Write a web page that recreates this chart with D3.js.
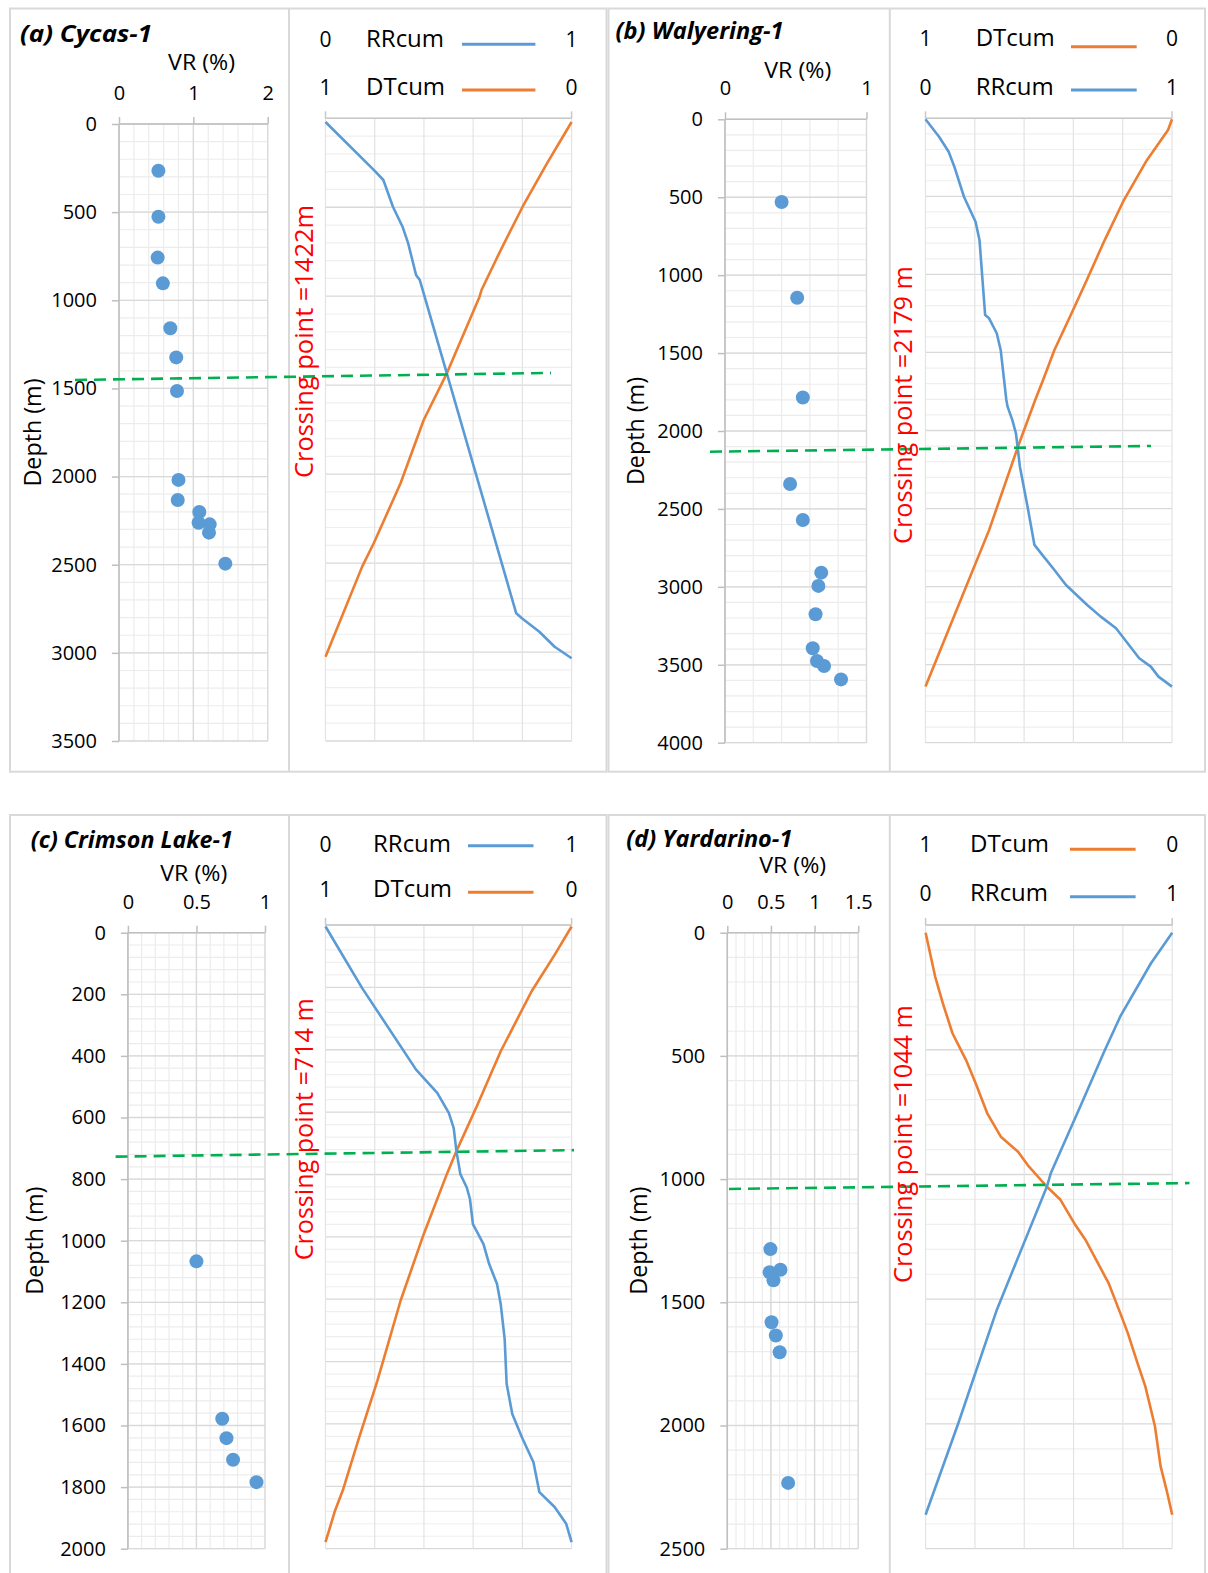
<!DOCTYPE html>
<html>
<head>
<meta charset="utf-8">
<script src="https://cdn.jsdelivr.net/npm/d3@7"></script>
<style>
  body { margin: 0; background: #fff; }
  svg text { font-family: "Open Sans", sans-serif; fill: #000; }
</style>
</head>
<body>
<svg id="fig" width="1208" height="1573"></svg>
<script>
// ---- data: [depth (m), value] ----

// (a) Cycas-1
var cycasVR = [[265,0.53],[526,0.53],[758,0.52],[904,0.59],[1159,0.69],[1324,0.77],[1515,0.78],[2019,0.80],[2133,0.79],[2201,1.08],[2262,1.07],[2271,1.22],[2318,1.21],[2494,1.43]]
var cycasRR = [[0,0],[275,0.199],[328,0.235],[479,0.274],[592,0.313],[686,0.336],[865,0.368],[893,0.383],[1421,0.493],[2778,0.775],[2806,0.798],[2882,0.869],[2967,0.931],[3032,1]]
var cycasDT = [[0,0],[234,0.1],[479,0.199],[724,0.288],[950,0.366],[988,0.374],[1421,0.507],[1685,0.601],[2043,0.695],[2382,0.804],[2514,0.851],[3023,1]]
var cycasVRTicks = [0, 1, 2]

// (b) Walyering-1
var walyeringVR = [[531,0.40],[1145,0.51],[1785,0.55],[2340,0.46],[2571,0.55],[2909,0.68],[2994,0.66],[3176,0.64],[3394,0.62],[3476,0.65],[3508,0.70],[3594,0.82]]
var walyeringRR = [[0,0],[112,0.055],[208,0.094],[304,0.117],[497,0.156],[657,0.203],[774,0.219],[1256,0.242],[1277,0.258],[1373,0.289],[1480,0.305],[1801,0.328],[1844,0.333],[1929,0.352],[2015,0.367],[2229,0.383],[2486,0.414],[2731,0.442],[2785,0.469],[2892,0.523],[2988,0.570],[3116,0.656],[3191,0.711],[3266,0.773],[3362,0.820],[3458,0.867],[3512,0.914],[3576,0.945],[3640,1]]
var walyeringDT = [[0,0],[69,0.016],[262,0.102],[518,0.195],[775,0.273],[1053,0.352],[1267,0.414],[1480,0.477],[1673,0.523],[1801,0.555],[2101,0.625],[2636,0.742],[3064,0.852],[3640,1]]
var walyeringVRTicks = [0, 1]

// (c) Crimson Lake-1
var crimsonVR = [[1067,0.50],[1578,0.688],[1641,0.719],[1711,0.767],[1784,0.938]]
var crimsonRR = [[0,0],[198,0.149],[460,0.368],[535,0.454],[599,0.501],[648,0.521],[722,0.532],[796,0.548],[839,0.574],[876,0.587],[957,0.599],[1021,0.642],[1085,0.665],[1149,0.697],[1214,0.712],[1326,0.728],[1470,0.736],[1567,0.759],[1642,0.798],[1722,0.845],[1818,0.869],[1866,0.931],[1920,0.978],[1979,1]]
var crimsonDT = [[0,0],[91,0.069],[209,0.163],[401,0.288],[572,0.382],[722,0.468],[796,0.507],[989,0.601],[1203,0.695],[1460,0.789],[1652,0.867],[1813,0.930],[1877,0.961],[1979,1]]
var crimsonVRTicks = [0, 0.5, 1]

// (d) Yardarino-1
var yardarinoVR = [[1284,0.494],[1368,0.609],[1378,0.485],[1411,0.529],[1581,0.507],[1635,0.556],[1703,0.60],[2233,0.697]]
var yardarinoRR = [[0,1],[124,0.914],[341,0.789],[476,0.727],[692,0.633],[975,0.508],[1030,0.492],[1530,0.289],[1990,0.133],[2362,0]]
var yardarinoDT = [[0,1],[179,0.961],[287,0.930],[408,0.891],[517,0.836],[611,0.797],[733,0.75],[828,0.695],[889,0.625],[943,0.586],[1031,0.508],[1084,0.453],[1178,0.398],[1246,0.352],[1334,0.305],[1422,0.258],[1543,0.211],[1625,0.180],[1746,0.141],[1841,0.109],[1936,0.086],[2003,0.070],[2166,0.047],[2261,0.023],[2362,0]]
var yardarinoVRTicks = [0, 0.5, 1, 1.5]

var BLUE = '#5b9bd5', ORANGE = '#ed7d31', GREEN = '#00b050'

// ---- layout ----
var panels = [
  { frame: [10, 8.5, 606.5, 771.7], divider: 289, title: '(a) Cycas-1', titleX: 20, titleY: 42, titleLen: 132,
    vr: cycasVR, rr: cycasRR, dt: cycasDT, vrTicks: cycasVRTicks, vrMax: 2, vrMinor: 0.2,
    lx0: 119, lx1: 267.7, ly0: 124, ly1: 741, depthMax: 3500, depthMajor: 500, depthMinor: 100,
    vrLabelX: 201.6, vrLabelY: 70, depthLabelX: 33,
    rx0: 325.5, rx1: 571.6, gridTop: 118.3, rMajors: 7, curveTop: 122,
    legendX: 366, lineX0: 462, lineX1: 535.4,
    rows: [{ name: 'RRcum', l: '0', r: '1', color: BLUE, y: 46.7, lineY: 44.3 },
           { name: 'DTcum', l: '1', r: '0', color: ORANGE, y: 95, lineY: 90 }],
    cross: 'Crossing point =1422m', crossX: 313, crossY: 341.5, crossLen: 273,
    green: [75, 1452, 551, 1412] },
  { frame: [608.5, 8.5, 1205, 771.7], divider: 889.8, title: '(b) Walyering-1', titleX: 615.6, titleY: 39.3, titleLen: 168,
    vr: walyeringVR, rr: walyeringRR, dt: walyeringDT, vrTicks: walyeringVRTicks, vrMax: 1, vrMinor: 0.2,
    lx0: 725, lx1: 866.5, ly0: 119.3, ly1: 742.7, depthMax: 4000, depthMajor: 500, depthMinor: 100,
    vrLabelX: 797.8, vrLabelY: 78.3, depthLabelX: 636,
    rx0: 925.5, rx1: 1172, gridTop: 118.3, rMajors: 8, curveTop: 119.3,
    legendX: 975.7, lineX0: 1071, lineX1: 1136.7,
    rows: [{ name: 'DTcum', l: '1', r: '0', color: ORANGE, y: 46, lineY: 46.7 },
           { name: 'RRcum', l: '0', r: '1', color: BLUE, y: 95, lineY: 90 }],
    cross: 'Crossing point =2179 m', crossX: 912, crossY: 405, crossLen: 278,
    green: [710, 2133, 1151, 2096] },
  { frame: [10, 815, 606.5, 1600], divider: 289, title: '(c) Crimson Lake-1', titleX: 30.8, titleY: 848.3, titleLen: 202,
    vr: crimsonVR, rr: crimsonRR, dt: crimsonDT, vrTicks: crimsonVRTicks, vrMax: 1, vrMinor: 0.1,
    lx0: 127.9, lx1: 265, ly0: 932.7, ly1: 1548.7, depthMax: 2000, depthMajor: 200, depthMinor: 40,
    vrLabelX: 193.8, vrLabelY: 880.7, depthLabelX: 34.7,
    rx0: 325.5, rx1: 571.6, gridTop: 925, rMajors: 10, curveTop: 926.5,
    legendX: 373, lineX0: 468, lineX1: 533.5,
    rows: [{ name: 'RRcum', l: '0', r: '1', color: BLUE, y: 852.3, lineY: 845.7 },
           { name: 'DTcum', l: '1', r: '0', color: ORANGE, y: 897.3, lineY: 892.3 }],
    cross: 'Crossing point =714 m', crossX: 313, crossY: 1129.3, crossLen: 262,
    green: [115.6, 727, 574, 706] },
  { frame: [608.5, 815, 1205, 1600], divider: 889.8, title: '(d) Yardarino-1', titleX: 626.3, titleY: 846.7, titleLen: 166,
    vr: yardarinoVR, rr: yardarinoRR, dt: yardarinoDT, vrTicks: yardarinoVRTicks, vrMax: 1.5, vrMinor: 0.1,
    lx0: 727.3, lx1: 858.2, ly0: 932.7, ly1: 1548.7, depthMax: 2500, depthMajor: 500, depthMinor: 100,
    vrLabelX: 792.7, vrLabelY: 873.3, depthLabelX: 638.7,
    rx0: 925.6, rx1: 1172.2, gridTop: 925, rMajors: 5, curveTop: 932.7,
    legendX: 970, lineX0: 1070, lineX1: 1135.6,
    rows: [{ name: 'DTcum', l: '1', r: '0', color: ORANGE, y: 852.3, lineY: 849.3 },
           { name: 'RRcum', l: '0', r: '1', color: BLUE, y: 900.7, lineY: 896.7 }],
    cross: 'Crossing point =1044 m', crossX: 912, crossY: 1144, crossLen: 278,
    green: [729, 1040, 1189.5, 1016] }
]

var svg = d3.select('#fig')

panels.forEach(drawPanel)

function hline(g, x0, x1, y, color, w) {
  g.append('line').attr('x1', x0).attr('x2', x1).attr('y1', y).attr('y2', y)
    .attr('stroke', color).attr('stroke-width', w || 1)
}
function vline(g, x, y0, y1, color, w) {
  g.append('line').attr('x1', x).attr('x2', x).attr('y1', y0).attr('y2', y1)
    .attr('stroke', color).attr('stroke-width', w || 1)
}

function drawPanel(p) {
  var g = svg.append('g')

  // frame + divider
  g.append('rect')
    .attr('x', p.frame[0]).attr('y', p.frame[1])
    .attr('width', p.frame[2] - p.frame[0]).attr('height', p.frame[3] - p.frame[1])
    .attr('fill', 'none').attr('stroke', '#d9d9d9').attr('stroke-width', 2)
  vline(g, p.divider, p.frame[1], p.frame[3], '#d9d9d9', 2)

  // ---------- left: VR vs depth ----------
  var x = d3.scaleLinear().domain([0, p.vrMax]).range([p.lx0, p.lx1])
  var y = d3.scaleLinear().domain([0, p.depthMax]).range([p.ly0, p.ly1])

  var eps = 1e-9
  d3.range(0, p.depthMax + eps, p.depthMinor).forEach(function(d){
    hline(g, p.lx0, p.lx1, y(d), '#ececec', 1.2)
  })
  d3.range(0, p.vrMax + eps, p.vrMinor).forEach(function(v){
    vline(g, x(v), p.ly0, p.ly1, '#ececec', 1.2)
  })
  var depthMajors = d3.range(0, p.depthMax + eps, p.depthMajor)
  depthMajors.forEach(function(d){ hline(g, p.lx0, p.lx1, y(d), '#d9d9d9', 1.3) })
  p.vrTicks.forEach(function(v){ vline(g, x(v), p.ly0, p.ly1, '#d9d9d9', 1.3) })

  var yAxis = d3.axisLeft(y).tickValues(depthMajors).tickSize(7).tickPadding(15)
    .tickFormat(d3.format('d'))
  var ya = g.append('g').attr('transform', 'translate(' + p.lx0 + ',0)').call(yAxis)
  var xAxis = d3.axisTop(x).tickValues(p.vrTicks).tickSize(7).tickPadding(17)
    .tickFormat(function(d){ return String(d) })
  var xa = g.append('g').attr('transform', 'translate(0,' + p.ly0 + ')').call(xAxis)
  ;[ya, xa].forEach(function(a){
    a.select('.domain').remove()
    a.selectAll('.tick line').attr('stroke', '#bfbfbf').attr('stroke-width', 1.5)
    a.selectAll('.tick text').style('font-size', '20px').attr('fill', '#000')
  })
  vline(g, p.lx0, p.ly0, p.ly1, '#bfbfbf', 1.5)
  hline(g, p.lx0, p.lx1, p.ly0, '#bfbfbf', 1.5)

  g.append('text').attr('x', p.vrLabelX).attr('y', p.vrLabelY)
    .attr('text-anchor', 'middle').style('font-size', '22px')
    .attr('textLength', 67).attr('lengthAdjust', 'spacingAndGlyphs').text('VR (%)')
  g.append('text')
    .attr('transform', 'translate(' + p.depthLabelX + ',' + ((p.ly0 + p.ly1) / 2) + ') rotate(-90)')
    .attr('text-anchor', 'middle').attr('dy', '0.35em').style('font-size', '24px')
    .attr('textLength', 108).attr('lengthAdjust', 'spacingAndGlyphs').text('Depth (m)')

  g.selectAll('circle.vr').data(p.vr).enter().append('circle')
    .attr('cx', function(d){ return x(d[1]) })
    .attr('cy', function(d){ return y(d[0]) })
    .attr('r', 7).attr('fill', BLUE)

  // ---------- right: cumulative curves ----------
  var rx = d3.scaleLinear().domain([0, 1]).range([p.rx0, p.rx1])
  var dtx = d3.scaleLinear().domain([1, 0]).range([p.rx0, p.rx1])
  var ry = d3.scaleLinear().domain([0, p.depthMax]).range([p.curveTop, p.ly1])
  var gy = d3.scaleLinear().domain([0, p.rMajors * 5]).range([p.gridTop, p.ly1])

  d3.range(0, p.rMajors * 5 + 1).forEach(function(i){
    hline(g, p.rx0, p.rx1, gy(i), i % 5 === 0 ? '#d9d9d9' : '#efefef', i % 5 === 0 ? 1.3 : 1.2)
  })
  rx.ticks(5).forEach(function(v){ vline(g, rx(v), p.gridTop, p.ly1, '#e3e3e3', 1.2) })
  hline(g, p.rx0, p.rx1, p.gridTop, '#c8c8c8', 1.5)
  vline(g, p.rx0, p.gridTop - 7, p.gridTop, '#c8c8c8', 1.5)
  vline(g, p.rx1, p.gridTop - 7, p.gridTop, '#c8c8c8', 1.5)

  var rrLine = d3.line().x(function(d){ return rx(d[1]) }).y(function(d){ return ry(d[0]) })
  var dtLine = d3.line().x(function(d){ return dtx(d[1]) }).y(function(d){ return ry(d[0]) })
  g.append('path').datum(p.dt).attr('d', dtLine).attr('fill', 'none')
    .attr('stroke', ORANGE).attr('stroke-width', 2.6).attr('stroke-linejoin', 'round')
  g.append('path').datum(p.rr).attr('d', rrLine).attr('fill', 'none')
    .attr('stroke', BLUE).attr('stroke-width', 2.6).attr('stroke-linejoin', 'round')

  // legend / secondary axis labels
  p.rows.forEach(function(r){
    g.append('text').attr('x', p.rx0).attr('y', r.y).attr('text-anchor', 'middle')
      .style('font-size', '21px').text(r.l)
    g.append('text').attr('x', p.rx1).attr('y', r.y).attr('text-anchor', 'middle')
      .style('font-size', '21px').text(r.r)
    g.append('text').attr('x', p.legendX).attr('y', r.y)
      .style('font-size', '24px').text(r.name)
    hline(g, p.lineX0, p.lineX1, r.lineY, r.color, 3)
  })

  // crossing annotation
  g.append('line')
    .attr('x1', p.green[0]).attr('y1', y(p.green[1]))
    .attr('x2', p.green[2]).attr('y2', y(p.green[3]))
    .attr('stroke', GREEN).attr('stroke-width', 2.6).attr('stroke-dasharray', '12,7')
  g.append('text')
    .attr('transform', 'translate(' + p.crossX + ',' + p.crossY + ') rotate(-90)')
    .attr('text-anchor', 'middle').style('font-size', '25px').style('fill', '#ff0000')
    .attr('textLength', p.crossLen).attr('lengthAdjust', 'spacingAndGlyphs')
    .text(p.cross)

  // title
  g.append('text').attr('x', p.titleX).attr('y', p.titleY)
    .style('font-size', '24px').style('font-weight', 'bold').style('font-style', 'italic')
    .attr('textLength', p.titleLen).attr('lengthAdjust', 'spacingAndGlyphs')
    .text(p.title)
}
</script>
</body>
</html>
